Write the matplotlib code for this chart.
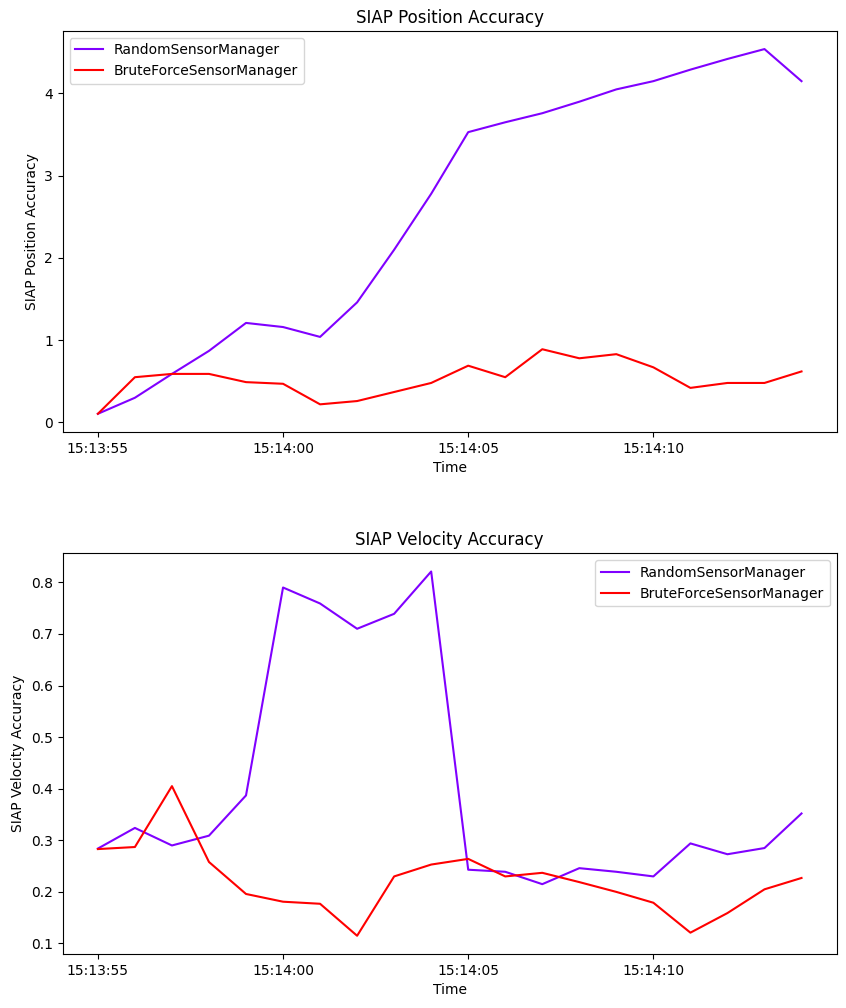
import datetime as dt
import matplotlib
matplotlib.use("Agg")
import matplotlib.pyplot as plt
import matplotlib.dates as mdates

start = dt.datetime(2023, 1, 1, 15, 13, 55)
times = [start + dt.timedelta(seconds=i) for i in range(20)]

labels = ['RandomSensorManager', 'BruteForceSensorManager']
colors = ['#8000ff', '#ff0000']

# SIAP position accuracy
pos_random = [0.105, 0.30, 0.59, 0.87, 1.21, 1.16, 1.04, 1.46, 2.10, 2.78,
              3.53, 3.65, 3.76, 3.90, 4.05, 4.15, 4.29, 4.42, 4.54, 4.15]
pos_brute = [0.105, 0.55, 0.59, 0.59, 0.49, 0.47, 0.22, 0.26, 0.37, 0.48,
             0.69, 0.55, 0.89, 0.78, 0.83, 0.67, 0.42, 0.48, 0.48, 0.62]

# SIAP velocity accuracy
vel_random = [0.284, 0.324, 0.290, 0.309, 0.387, 0.790, 0.759, 0.710, 0.739, 0.821,
              0.243, 0.239, 0.215, 0.246, 0.239, 0.230, 0.294, 0.273, 0.285, 0.352]
vel_brute = [0.283, 0.287, 0.405, 0.258, 0.196, 0.181, 0.177, 0.115, 0.230, 0.253,
             0.264, 0.230, 0.237, 0.219, 0.200, 0.179, 0.121, 0.159, 0.205, 0.227]

fig = plt.figure(figsize=(8.46, 10.08), dpi=100)
ax1 = fig.add_axes([0.0741, 0.5714, 0.9149, 0.398])
ax2 = fig.add_axes([0.0741, 0.0536, 0.9149, 0.3975])

fmt = mdates.DateFormatter('%H:%M:%S')

ax1.plot(times, pos_random, color=colors[0], label=labels[0])
ax1.plot(times, pos_brute, color=colors[1], label=labels[1])
ax1.set_title('SIAP Position Accuracy')
ax1.set_xlabel('Time')
ax1.set_ylabel('SIAP Position Accuracy')
ax1.xaxis.set_major_formatter(fmt)
ax1.legend(loc='upper left')

ax2.plot(times, vel_random, color=colors[0], label=labels[0])
ax2.plot(times, vel_brute, color=colors[1], label=labels[1])
ax2.set_title('SIAP Velocity Accuracy')
ax2.set_xlabel('Time')
ax2.set_ylabel('SIAP Velocity Accuracy')
ax2.xaxis.set_major_formatter(fmt)
ax2.legend(loc='upper right')

for ax in (ax1, ax2):
    ax.xaxis.set_major_locator(mdates.SecondLocator(bysecond=[0, 5, 10, 15, 20, 25, 30, 35, 40, 45, 50, 55]))

fig.savefig('out.png', dpi=100)
